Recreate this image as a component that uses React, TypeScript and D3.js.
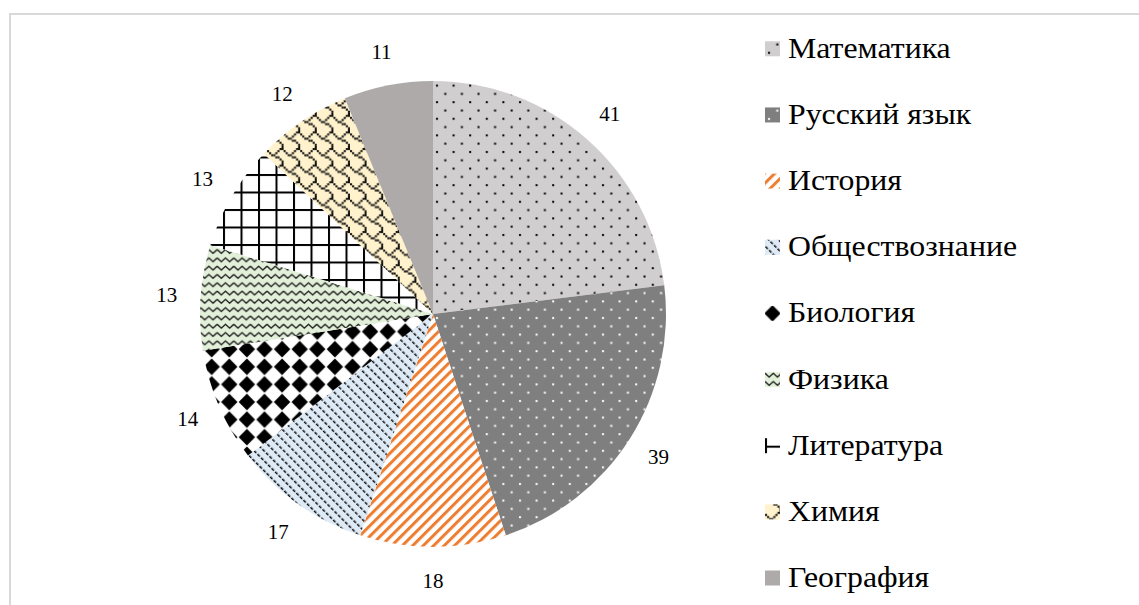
import React from 'react';
import * as d3 from 'd3';

const categories = ['Математика', 'Русский язык', 'История', 'Обществознание', 'Биология', 'Физика', 'Литература', 'Химия', 'География'];
const values = [41, 39, 18, 17, 14, 13, 13, 12, 11];

// pattern id per slice, same order as categories
const fills = ['url(#p-math)', 'url(#p-rus)', 'url(#p-hist)', 'url(#p-soc)', 'url(#p-bio)', 'url(#p-phys)', 'url(#p-lit)', 'url(#p-chem)', '#AEAAAA'];

// 8x8 "shingle" bitmap used for Химия
const shingleBits = [0x03, 0x84, 0x48, 0x30, 0x0c, 0x02, 0x01, 0x01];

const W = 1139;
const H = 605;
const cx = 433;
const cy = 314;
const R = 233;
const serif = "'Liberation Serif', 'Times New Roman', Times, serif";
const px = 16.6 / 8;

const Patterns: React.FC = () => (
  <defs>
    <pattern id="p-math" patternUnits="userSpaceOnUse" width={16.6} height={16.6}>
      <rect width={16.6} height={16.6} fill="#D0CECE" />
      <rect x={3} y={3} width={2} height={2} fill="#000" />
      <rect x={11.3} y={11.3} width={2} height={2} fill="#000" />
    </pattern>
    <pattern id="p-rus" patternUnits="userSpaceOnUse" width={16.6} height={16.6}>
      <rect width={16.6} height={16.6} fill="#7F7F7F" />
      <rect x={3} y={3} width={2} height={2} fill="#fff" />
      <rect x={11.3} y={11.3} width={2} height={2} fill="#fff" />
    </pattern>
    <pattern id="p-hist" patternUnits="userSpaceOnUse" width={7.4} height={6} patternTransform="rotate(45)">
      <rect width={7.4} height={6} fill="#fff" />
      <rect x={0} y={0} width={3} height={6} fill="#ED7D31" />
    </pattern>
    <pattern id="p-soc" patternUnits="userSpaceOnUse" width={7} height={5} patternTransform="rotate(-45)">
      <rect width={7} height={5} fill="#DEEBF7" />
      <rect x={0} y={0} width={1.5} height={3.3} fill="#111" />
    </pattern>
    <pattern id="p-bio" patternUnits="userSpaceOnUse" width={17.6} height={17.6} x={-1.3} y={-8.8}>
      <rect width={17.6} height={17.6} fill="#fff" />
      <path d="M8.8,0.6 L17,8.8 L8.8,17 L0.6,8.8 Z" fill="#000" />
    </pattern>
    <pattern id="p-phys" patternUnits="userSpaceOnUse" width={16.6} height={8.3}>
      <rect width={16.6} height={8.3} fill="#E2F0D9" />
      <path d="M0,2 L4.15,5.8 L8.3,2 L12.45,5.8 L16.6,2" fill="none" stroke="#222" strokeWidth={1.4} />
    </pattern>
    <pattern id="p-lit" patternUnits="userSpaceOnUse" width={17.5} height={17.5}>
      <rect width={17.5} height={17.5} fill="#fff" />
      <rect x={0} y={0} width={2} height={17.5} fill="#000" />
      <rect x={0} y={0} width={17.5} height={2} fill="#000" />
    </pattern>
    <pattern id="p-chem" patternUnits="userSpaceOnUse" width={16.6} height={16.6}>
      <rect width={16.6} height={16.6} fill="#FFF2CC" />
      {shingleBits.flatMap((b, row) =>
        d3.range(8).filter(col => (b >> (7 - col)) & 1).map(col => (
          <rect key={`${row}-${col}`} x={col * px} y={row * px} width={px} height={px} fill="#111" />
        ))
      )}
    </pattern>
  </defs>
);

const App: React.FC = () => {
  const pie = d3.pie<number>().sort(null).value(d => d)(values);
  const arc = d3.arc<d3.PieArcDatum<number>>().innerRadius(0).outerRadius(R);
  const labelArc = d3.arc<d3.PieArcDatum<number>>().innerRadius(267).outerRadius(267);

  const legend = d3.scalePoint<string>().domain(categories).range([48.8, 578]);

  return (
    <svg width={W} height={H} style={{ position: 'absolute', left: 0, top: 0, background: '#fff' }}>
      <Patterns />
      <rect x={10} y={14} width={W + 20} height={H + 20} fill="#fff" stroke="#D9D9D9" strokeWidth={2} />
      <g transform={`translate(${cx},${cy})`}>
        {pie.map((d, i) => (
          <path key={categories[i]} d={arc(d) || ''} fill={fills[i]} />
        ))}
        {pie.map((d, i) => {
          const [lx, ly] = labelArc.centroid(d);
          return (
            <text key={'l' + i} x={lx} y={ly} textAnchor="middle" dominantBaseline="central"
              style={{ fontFamily: serif, fontSize: 21 }} fill="#000">{d.data}</text>
          );
        })}
      </g>
      <g>
        {categories.map((c, i) => (
          <g key={c} transform={`translate(765,${legend(c)})`}>
            <rect x={0} y={-7.5} width={15} height={15} fill={fills[i]} />
            <text x={23} y={9} transform="scale(1.06,1)" transform-origin="23 0"
              style={{ fontFamily: serif, fontSize: 30 }} fill="#000">{c}</text>
          </g>
        ))}
      </g>
    </svg>
  );
};

export default App;
